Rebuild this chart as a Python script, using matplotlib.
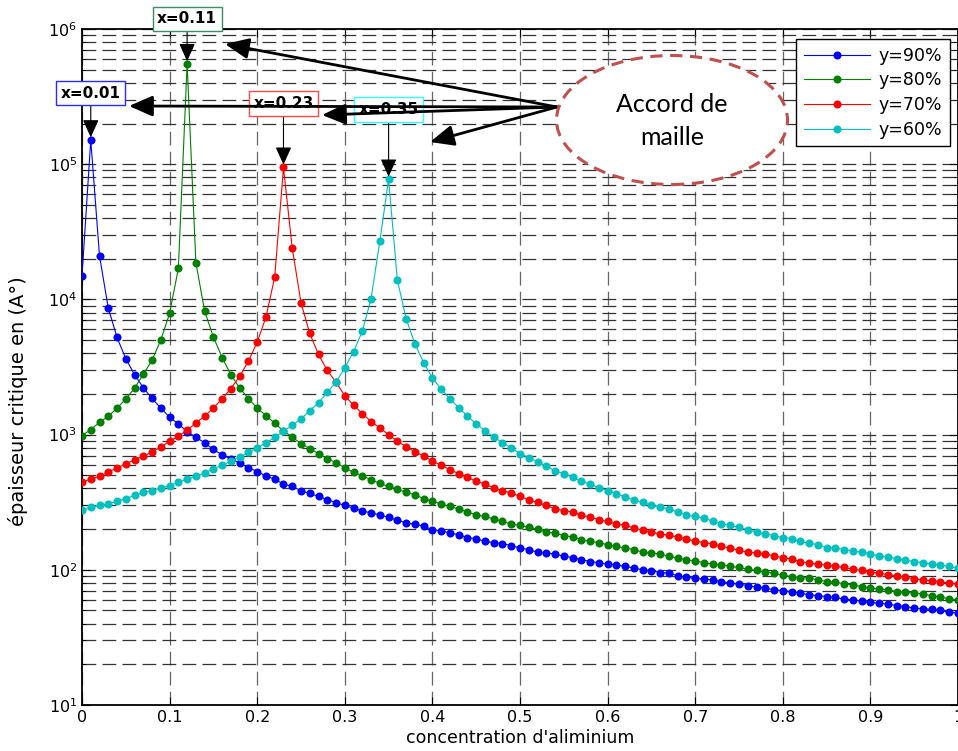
import numpy as np
import matplotlib
matplotlib.use("Agg")
import matplotlib.pyplot as plt
from matplotlib.patches import Ellipse
from matplotlib.ticker import NullFormatter, LogLocator

# aluminium concentration, step 0.01
x_al = np.linspace(0, 1, 101)

# critical thickness (A), one list per y
h_90 = [14890, 150600, 20940, 8630, 5230, 3640, 2780, 2220, 1850, 1570,
        1343, 1200, 1052, 958, 868, 777, 708, 662, 615, 570,
        532, 495, 467, 431, 414, 385, 367, 349, 330, 314,
        299, 286, 273, 263, 255, 244, 233, 222, 218, 210,
        198, 194, 187, 182, 173, 170, 162, 159, 156, 151,
        145, 141, 135, 133, 131, 126, 123, 119, 115, 113,
        110, 109, 106, 103, 100, 98.4, 95.5, 94.6, 90.3, 88.3,
        86.3, 85.3, 84.3, 81.9, 79.6, 78.3, 76.5, 74.5, 73.2, 71.1,
        70.2, 69.0, 67.2, 65.3, 64.4, 63.4, 62.4, 60.7, 59.9, 58.9,
        57.3, 56.6, 55.7, 54.4, 53.5, 52.0, 51.6, 51.0, 50.0, 48.6, 47.8]

h_80 = [984, 1089, 1233, 1367, 1567, 1838, 2202, 2797, 3550, 5025,
        7870, 16980, 551000, 18700, 8190, 5270, 3715, 2770, 2210, 1848,
        1571, 1383, 1213, 1065, 958, 858, 788, 723, 662, 621,
        567, 527, 495, 464, 435, 414, 394, 374, 359, 336,
        321, 307, 294, 282, 268, 255, 248, 238, 228, 218,
        213, 206, 200, 190, 187, 179, 175, 167, 162, 159,
        153, 149, 145, 141, 135, 133, 131, 126, 122, 119,
        116, 113, 110, 109, 106, 104, 101, 98.9, 96.1, 94.6,
        90.8, 89.2, 87.7, 86.9, 84.3, 81.9, 81.1, 78.7, 77.4, 75.2,
        73.2, 71.9, 71.1, 69.0, 68.4, 67.2, 66.4, 64.2, 62.8, 61.0, 59.9]

h_70 = [443, 472, 491, 529, 567, 607, 653, 691, 745, 811,
        892, 971, 1076, 1221, 1367, 1578, 1838, 2192, 2704, 3493,
        4830, 7400, 14630, 94600, 23880, 9460, 5600, 3915, 2980, 2440,
        1936, 1648, 1431, 1248, 1122, 1000, 892, 815, 746, 695,
        638, 593, 550, 514, 483, 451, 431, 403, 385, 370,
        349, 330, 315, 299, 283, 273, 268, 255, 245, 235,
        228, 218, 213, 204, 196, 190, 184, 180, 175, 169,
        163, 159, 155, 149, 145, 139, 135, 133, 131, 127,
        123, 120, 115, 112, 110, 108, 106, 104, 101, 98.9,
        96.1, 94.6, 91.8, 90.3, 88.3, 85.8, 84.3, 83.0, 81.9, 79.6, 78.3]

h_60 = [275, 289, 299, 307, 321, 336, 355, 374, 385, 403,
        419, 443, 470, 491, 520, 557, 597, 634, 679, 740,
        797, 868, 955, 1057, 1172, 1307, 1506, 1718, 2057, 2440,
        3120, 4100, 5820, 10120, 27040, 77100, 13900, 7190, 4700, 3400,
        2630, 2168, 1842, 1578, 1376, 1197, 1071, 955, 873, 797,
        723, 676, 631, 582, 540, 514, 484, 451, 431, 403,
        385, 365, 346, 326, 317, 299, 291, 282, 268, 255,
        248, 242, 228, 219, 213, 206, 198, 190, 185, 179,
        173, 170, 162, 158, 153, 146, 145, 141, 138, 135,
        131, 127, 124, 121, 118, 115, 113, 110, 109, 106, 103]

labels = ['y=90%', 'y=80%', 'y=70%', 'y=60%']
colors = ['#0000ff', '#008000', '#ff0000', '#00bfbf']
box_colors = ['#2a2aff', '#3c8c64', '#ff4a4a', '#33ffff']
peak_idx = [1, 12, 23, 35]
peak_text = ['x=0.01', 'x=0.11', 'x=0.23', 'x=0.35']
peak_dy = [47, 45, 64, 70]   # label offset above peak, pixels

x_ticks = [0, 0.1, 0.2, 0.3, 0.4, 0.5, 0.6, 0.7, 0.8, 0.9, 1]
x_ticklabels = ['0', '0.1', '0.2', '0.3', '0.4', '0.5', '0.6', '0.7', '0.8', '0.9', '1']

W, H = 958, 751


def fpx(px, py):
    # pixel position (from top-left) -> figure fraction
    return (px / W, 1 - py / H)


fig = plt.figure(figsize=(W / 100, H / 100), dpi=100)
ax = fig.add_axes([82 / W, 1 - 705 / H, 876 / W, 676 / H])

curves = [h_90, h_80, h_70, h_60]
for h, lab, col in zip(curves, labels, colors):
    ax.plot(x_al, h, '-o', color=col, lw=0.8, ms=5.8, mew=0, label=lab, zorder=3)

ax.set_yscale('log')
ax.set_ylim(10, 1e6)
ax.set_xlim(0, 1)
ax.set_xticks(x_ticks)
ax.set_xticklabels(x_ticklabels)
ax.yaxis.set_minor_locator(LogLocator(base=10, subs=np.arange(2, 10)))
ax.yaxis.set_minor_formatter(NullFormatter())

dash = (0, (11, 5))
ax.grid(True, which='major', axis='x', color='#666666', ls=dash, lw=0.9)
ax.grid(True, which='both', axis='y', color='#333333', ls=dash, lw=0.9)
ax.set_axisbelow(True)

ax.tick_params(which='both', direction='in', top=True, right=True, labelsize=11.5)
ax.tick_params(which='major', length=6)
ax.tick_params(which='minor', length=3)
for sp in ax.spines.values():
    sp.set_linewidth(1.3)

ax.set_xlabel("concentration d'aliminium", fontsize=12.5, labelpad=3)
ax.set_ylabel('épaisseur critique en (A°)', fontsize=14, labelpad=4)
ax.yaxis.set_label_coords(-0.062, 0.45)

leg = ax.legend(loc='upper right', bbox_to_anchor=fpx(950, 39),
                bbox_transform=fig.transFigure, fontsize=12.5, fancybox=False,
                edgecolor='black', framealpha=1, handlelength=3.8,
                labelspacing=0.38, borderpad=0.45, handletextpad=0.5,
                borderaxespad=0)
leg.get_frame().set_linewidth(1.0)

# peak labels with arrows
for h, ec, i, txt, dy in zip(curves, box_colors, peak_idx, peak_text, peak_dy):
    ax.annotate(txt, xy=(x_al[i], h[i]), xytext=(0, dy), textcoords='offset pixels',
                ha='center', va='center', fontsize=11, fontweight='bold',
                bbox=dict(boxstyle='square,pad=0.3', fc='white', ec=ec, lw=1),
                arrowprops=dict(arrowstyle='-|>,head_length=1.0,head_width=0.45',
                                color='black', lw=0.8, shrinkA=0, shrinkB=2),
                annotation_clip=False, zorder=5)

# "Accord de maille" callout
start = fpx(557, 107)
for tip in [(225, 44), (129, 106), (322, 115), (430, 142)]:
    ax.annotate('', xy=fpx(*tip), xycoords='figure fraction',
                xytext=start, textcoords='figure fraction',
                arrowprops=dict(arrowstyle='-|>,head_length=0.8,head_width=0.35',
                                mutation_scale=18, color='black', lw=2,
                                shrinkA=0, shrinkB=0),
                annotation_clip=False, zorder=6)

fig.add_artist(Ellipse(fpx(672, 120), 231 / W, 129 / H, transform=fig.transFigure,
                       fc='white', ec='#c0504d', lw=2.2, ls=(0, (4, 2.5)), zorder=7))
fig.text(*fpx(672, 121), 'Accord de\nmaille', ha='center', va='center',
         fontsize=18, family='Lato', linespacing=1.5, zorder=8)

fig.savefig('out.png', dpi=100)
